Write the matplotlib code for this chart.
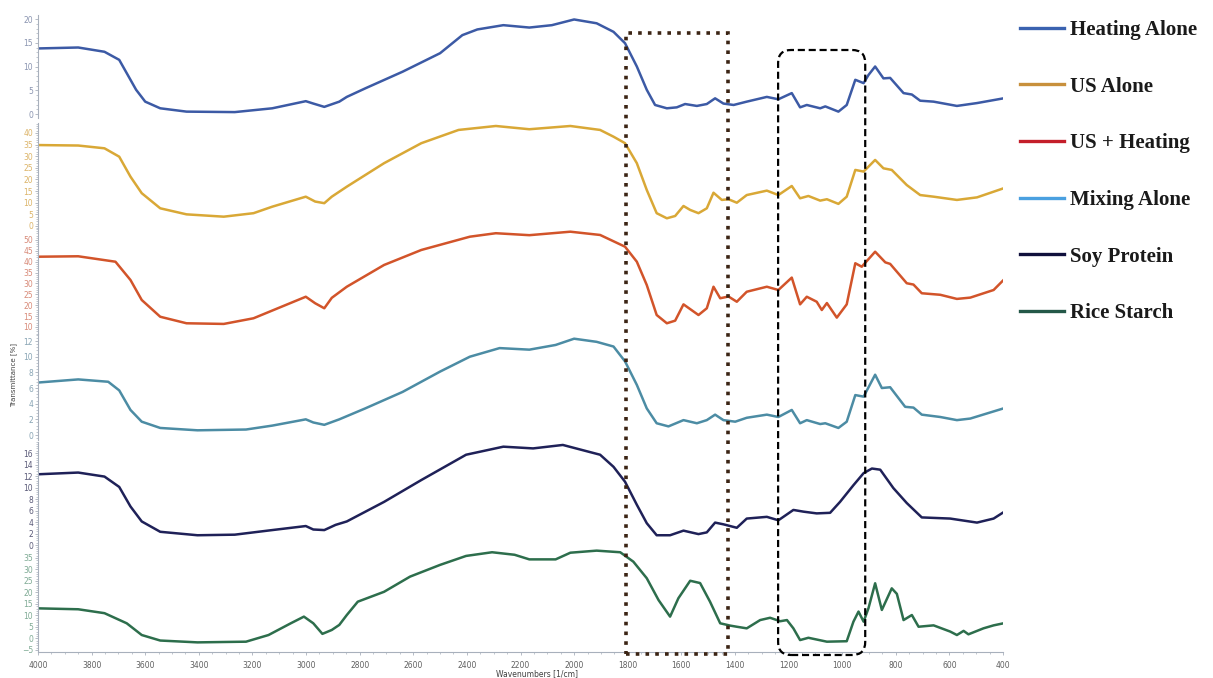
import matplotlib
matplotlib.use('Agg')
import matplotlib.pyplot as plt
from matplotlib.lines import Line2D
from matplotlib.patches import Rectangle, FancyBboxPatch
from matplotlib.ticker import MultipleLocator, AutoMinorLocator
from matplotlib.transforms import IdentityTransform

# FTIR spectra, wavenumber (1/cm) vs transmittance (%)
wn_heating = [4000, 3850, 3752, 3697, 3669, 3634, 3600, 3544, 3446, 3266, 3126, 3001, 2973, 2932, 2876,
              2848, 2779, 2640, 2500, 2417, 2361, 2264, 2167, 2083, 2000, 1916, 1853, 1810, 1766, 1729,
              1698, 1654, 1617, 1586, 1542, 1505, 1474, 1443, 1405, 1356, 1281, 1238, 1188, 1157, 1132,
              1082, 1063, 1014, 983, 951, 920, 902, 877, 846, 821, 771, 740, 709, 659, 572, 497, 398]
t_heating = [13.8, 14.0, 13.1, 11.4, 8.6, 5.1, 2.6, 1.2, 0.5, 0.4, 1.2, 2.7, 2.2, 1.5, 2.6,
             3.6, 5.4, 8.9, 12.8, 16.6, 17.8, 18.7, 18.2, 18.7, 19.9, 19.1, 17.3, 14.9, 10.0, 5.1,
             1.9, 1.2, 1.4, 2.1, 1.7, 2.1, 3.3, 2.2, 1.9, 2.6, 3.6, 3.1, 4.4, 1.4, 1.9,
             1.2, 1.6, 0.5, 1.9, 7.2, 6.5, 8.2, 10.0, 7.5, 7.6, 4.4, 4.1, 2.8, 2.6, 1.7, 2.3, 3.3]

wn_us = [4000, 3850, 3752, 3697, 3655, 3613, 3544, 3446, 3307, 3196, 3126, 3001, 2966, 2932, 2904,
         2848, 2709, 2570, 2431, 2292, 2167, 2014, 1903, 1853, 1810, 1766, 1729, 1692, 1654, 1623,
         1592, 1567, 1536, 1505, 1480, 1449, 1424, 1393, 1356, 1281, 1238, 1188, 1157, 1126, 1082,
         1057, 1014, 983, 951, 920, 877, 846, 815, 759, 709, 659, 572, 497, 398]
t_us = [34.8, 34.6, 33.4, 29.8, 21.2, 14.1, 7.6, 5.0, 4.0, 5.5, 8.3, 12.6, 10.5, 9.8, 12.6,
        16.9, 27.0, 35.6, 41.3, 43.0, 41.6, 43.0, 41.3, 38.4, 35.6, 27.0, 15.5, 5.5, 3.3, 4.3,
        8.6, 6.9, 5.5, 7.6, 14.3, 11.2, 11.5, 10.0, 13.3, 15.2, 13.3, 17.2, 11.9, 12.9, 10.9,
        11.5, 9.5, 12.6, 24.1, 23.4, 28.4, 24.8, 24.1, 17.6, 13.3, 12.6, 11.2, 12.3, 16.2]

wn_us_heat = [4000, 3850, 3711, 3655, 3613, 3544, 3446, 3307, 3196, 3001, 2966, 2932, 2904, 2848, 2709,
              2570, 2389, 2292, 2167, 2014, 1903, 1810, 1766, 1729, 1692, 1654, 1623, 1592, 1536, 1505,
              1480, 1455, 1424, 1393, 1356, 1281, 1238, 1188, 1157, 1132, 1095, 1076, 1057, 1020, 983,
              951, 927, 877, 839, 821, 759, 734, 703, 634, 572, 522, 435, 398]
t_us_heat = [42.3, 42.5, 40.0, 31.6, 22.4, 14.7, 11.7, 11.4, 14.0, 23.9, 20.9, 18.6, 23.4, 28.5, 38.5,
             45.4, 51.5, 53.1, 52.2, 53.8, 52.3, 46.9, 40.0, 29.3, 15.5, 11.7, 12.9, 20.4, 15.5, 18.6,
             28.5, 23.2, 24.0, 21.6, 26.2, 28.5, 27.0, 32.7, 20.4, 23.9, 21.6, 17.8, 21.0, 14.3, 20.4,
             39.3, 37.7, 44.6, 39.7, 39.0, 30.1, 29.5, 25.5, 24.8, 22.9, 23.5, 27.0, 31.6]

wn_mixing = [4000, 3850, 3738, 3697, 3655, 3613, 3544, 3405, 3224, 3126, 3001, 2973, 2932, 2876, 2779,
             2640, 2500, 2389, 2278, 2167, 2069, 2000, 1916, 1853, 1810, 1766, 1729, 1692, 1648, 1592,
             1542, 1505, 1474, 1443, 1399, 1356, 1281, 1238, 1188, 1157, 1132, 1082, 1063, 1014, 983,
             951, 920, 877, 852, 821, 765, 734, 703, 634, 572, 522, 398]
t_mixing = [6.7, 7.1, 6.8, 5.7, 3.2, 1.7, 0.9, 0.6, 0.7, 1.2, 2.0, 1.6, 1.3, 2.0, 3.4,
            5.5, 8.1, 10.0, 11.1, 10.9, 11.5, 12.3, 11.9, 11.3, 9.4, 6.4, 3.4, 1.5, 1.1, 1.9,
            1.5, 1.9, 2.6, 1.9, 1.7, 2.2, 2.6, 2.3, 3.2, 1.5, 1.9, 1.4, 1.5, 0.9, 1.7,
            5.1, 4.9, 7.7, 6.0, 6.1, 3.6, 3.5, 2.6, 2.3, 1.9, 2.1, 3.4]

wn_soy = [4000, 3850, 3752, 3697, 3655, 3613, 3544, 3405, 3266, 3126, 3001, 2973, 2932, 2890, 2848,
          2709, 2570, 2403, 2264, 2153, 2042, 1944, 1903, 1853, 1810, 1766, 1729, 1692, 1642, 1592,
          1536, 1505, 1474, 1443, 1393, 1356, 1281, 1238, 1182, 1144, 1095, 1045, 1008, 958, 920,
          889, 858, 809, 759, 703, 597, 497, 435, 398]
t_soy = [12.3, 12.6, 11.9, 10.1, 6.7, 4.1, 2.3, 1.7, 1.8, 2.6, 3.3, 2.7, 2.6, 3.5, 4.1,
         7.5, 11.3, 15.7, 17.1, 16.8, 17.4, 16.2, 15.7, 13.6, 11.0, 7.0, 3.8, 1.7, 1.7, 2.5,
         1.9, 2.2, 3.9, 3.6, 3.0, 4.6, 4.9, 4.3, 6.1, 5.8, 5.5, 5.6, 7.5, 10.4, 12.5,
         13.3, 13.1, 9.9, 7.3, 4.8, 4.6, 3.9, 4.6, 5.7]

wn_rice = [4000, 3850, 3752, 3669, 3613, 3544, 3405, 3224, 3140, 3057, 3008, 2973, 2939, 2904, 2876,
           2848, 2807, 2709, 2612, 2500, 2403, 2306, 2222, 2167, 2069, 2014, 1916, 1828, 1779, 1729,
           1685, 1642, 1611, 1567, 1530, 1493, 1455, 1418, 1393, 1356, 1306, 1269, 1231, 1206, 1182,
           1157, 1126, 1057, 983, 958, 939, 920, 902, 877, 852, 815, 796, 771, 740, 715,
           659, 597, 572, 547, 529, 473, 435, 398]
t_rice = [13.1, 12.7, 11.0, 6.6, 1.5, -0.9, -1.7, -1.4, 1.5, 6.6, 9.5, 6.6, 2.0, 3.7, 5.9,
          10.2, 16.0, 20.3, 26.9, 32.0, 35.9, 37.5, 36.4, 34.4, 34.4, 37.3, 38.2, 37.5, 33.4, 26.2,
          16.7, 9.5, 17.5, 25.1, 24.1, 16.0, 6.6, 5.6, 5.1, 4.4, 8.0, 9.0, 7.5, 8.0, 4.4,
          -0.7, 0.3, -1.4, -1.2, 7.3, 11.7, 7.3, 13.1, 24.0, 12.4, 21.8, 19.4, 8.0, 10.2, 5.1,
          5.7, 3.0, 1.5, 3.3, 1.8, 4.4, 5.7, 6.6]

labels = ['Heating Alone', 'US Alone', 'US + Heating', 'Mixing Alone', 'Soy Protein', 'Rice Starch']
series = [(wn_heating, t_heating), (wn_us, t_us), (wn_us_heat, t_us_heat),
          (wn_mixing, t_mixing), (wn_soy, t_soy), (wn_rice, t_rice)]
line_colors = ['#3c5aa5', '#d9a836', '#d2542a', '#4c8ca4', '#1f2158', '#2d6e4c']
legend_colors = ['#3a62b0', '#c8903c', '#c41e2a', '#4aa0e0', '#10103c', '#245848']
tick_colors = ['#8a94b0', '#dcb468', '#d88a78', '#88a4b4', '#5a5a78', '#7eaa94']
ylims = [(-0.8, 20.8), (-1, 44.5), (7, 55.5), (-0.6, 12.9), (-0.5, 18), (-5.8, 39.5)]
yticks = [range(0, 21, 5), range(0, 41, 5), range(10, 51, 5), range(0, 13, 2), range(0, 17, 2), range(-5, 36, 5)]

# marked regions (1/cm)
dotted_region = (1806, 1425)
dashed_region = (1239, 914)

W, H = 1213, 678
fig = plt.figure(figsize=(W / 100, H / 100), dpi=100)
fig.patch.set_facecolor('white')

left, right = 38, 1003
tops = [15.2, 122.5, 228.0, 334.0, 441.5, 547.65]
bots = [117.8, 228.3, 333.5, 439.7, 547.9, 651.8]
spine_c = '#a8b0bc'

axes = []
for i in range(6):
    ax = fig.add_axes([left / W, 1 - bots[i] / H, (right - left) / W, (bots[i] - tops[i]) / H])
    ax.set_facecolor('none')
    wn, t = series[i]
    ax.plot(wn, t, color=line_colors[i], lw=1.8, solid_joinstyle='round')
    ax.set_xlim(4000, 400)
    ax.set_ylim(*ylims[i])
    ax.set_yticks(list(yticks[i]))
    ax.yaxis.set_minor_locator(AutoMinorLocator(5))
    ax.tick_params(axis='y', which='major', labelsize=5.5, labelcolor=tick_colors[i],
                   color=spine_c, length=2.5, width=0.6, pad=1)
    ax.tick_params(axis='y', which='minor', color=spine_c, length=1.2, width=0.5)
    for s in ['top', 'right']:
        ax.spines[s].set_visible(False)
    ax.spines['left'].set_color(spine_c)
    ax.spines['left'].set_linewidth(0.8)
    if i < 5:
        ax.spines['bottom'].set_visible(False)
        ax.tick_params(axis='x', which='both', bottom=False, labelbottom=False)
    else:
        ax.spines['bottom'].set_color(spine_c)
        ax.spines['bottom'].set_linewidth(0.8)
        ax.xaxis.set_major_locator(MultipleLocator(200))
        ax.xaxis.set_minor_locator(MultipleLocator(50))
        ax.tick_params(axis='x', which='major', labelsize=5.5, labelcolor='#606060',
                       color=spine_c, length=2.5, width=0.6, pad=4)
        ax.tick_params(axis='x', which='minor', color=spine_c, length=1.5, width=0.5)
    axes.append(ax)

fig.text(14 / W, 1 - 375 / H, 'Transmittance [%]', rotation=90, fontsize=5,
         color='#404040', ha='center', va='center')
fig.text(537 / W, 1 - 674 / H, 'Wavenumbers [1/cm]', fontsize=5.5,
         color='#404040', ha='center', va='center')

# boxes around the highlighted bands, in pixel space
bottom_ax = axes[-1]
xa = bottom_ax.transData.transform([(dotted_region[0], 0), (dotted_region[1], 0)])[:, 0]
fig.add_artist(Rectangle((xa[0], H - 654), xa[1] - xa[0], 654 - 33, fill=False,
                         ec='#3b2414', lw=2.6, linestyle=(0, (1, 1.7)),
                         transform=IdentityTransform(), zorder=5))
xb = bottom_ax.transData.transform([(dashed_region[0], 0), (dashed_region[1], 0)])[:, 0]
fig.add_artist(FancyBboxPatch((xb[0], H - 655), xb[1] - xb[0], 655 - 50,
                              boxstyle='round,pad=0,rounding_size=13', fill=False,
                              ec='black', lw=1.6, linestyle=(0, (3.2, 1.7)),
                              transform=IdentityTransform(), zorder=5))

handles = [Line2D([], [], color=c, lw=2.4) for c in legend_colors]
fig.legend(handles, labels, loc='upper left', bbox_to_anchor=(1020 / W, 1 - 20 / H),
           frameon=False, prop={'family': 'Liberation Serif', 'weight': 'bold', 'size': 15},
           labelcolor='#1a1a1a', handlelength=2.1, handletextpad=0.3, labelspacing=1.76,
           borderaxespad=0, borderpad=0)

fig.savefig('out.png', dpi=100)
